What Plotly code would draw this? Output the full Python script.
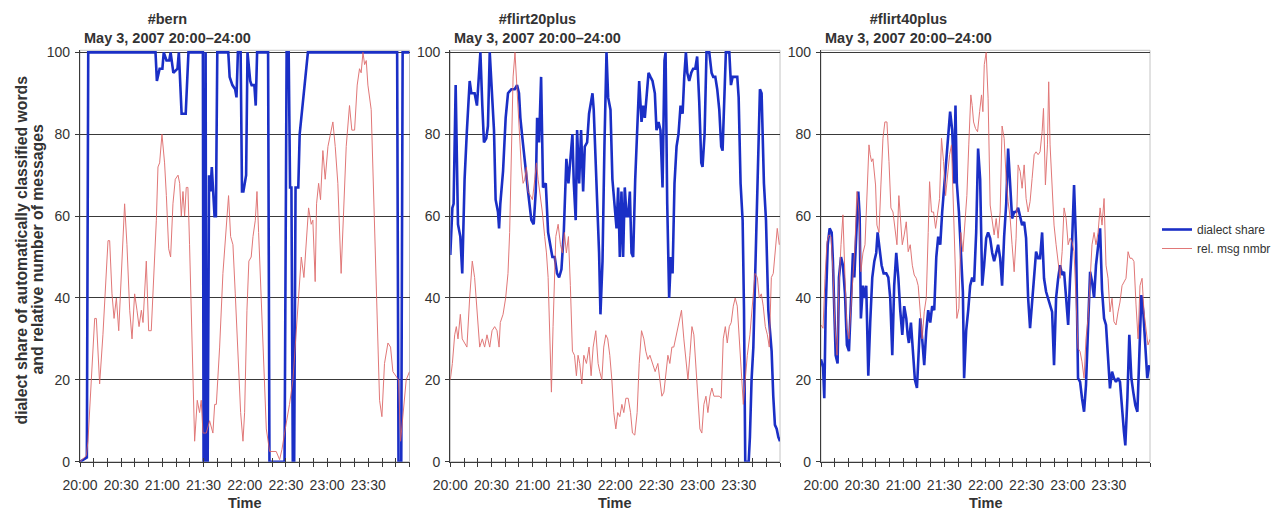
import plotly.graph_objects as go

# ---------------- data (minutes after 20:00, percent) ----------------
tick_labels = ["20:00", "20:30", "21:00", "21:30", "22:00", "22:30", "23:00", "23:30"]
panel_titles = ["#bern", "#flirt20plus", "#flirt40plus"]
subtitle = "May 3, 2007 20:00–24:00"
series_names = ["dialect share", "rel. msg nmbr"]
y_title_lines = ["dialect share of automatically classified words", "and relative number of messages"]

bern_dial_t = [0, 5, 6, 55, 56, 58, 60, 61, 63, 65, 66, 68, 71, 72, 74, 77, 79,
               89.5, 90, 91, 91.5, 92, 93, 94, 95, 96, 97, 98, 99, 100,
               108, 109, 111, 113, 114, 115, 117, 118, 119, 121, 122, 124, 125, 127, 128, 129,
               137, 138, 149, 150, 150.5, 152, 153, 154, 155, 156, 157, 159, 160, 166,
               231, 232, 234, 235, 240]
bern_dial_v = [0, 1, 100, 100, 93, 96, 96, 100, 98, 98, 100, 95, 96, 100, 85, 85, 100,
               100, 0, 0, 100, 0, 0, 70, 66, 72, 66, 60, 60, 100,
               100, 94, 92, 91, 89, 100, 100, 66, 66, 70, 100, 93, 92, 92, 87, 100,
               100, 0, 0, 100, 100, 100, 67, 67, 0, 0, 67, 67, 80, 100,
               100, 0, 0, 100, 100]

bern_msg_t = [0, 4.6, 5.8, 10.7, 11.9, 14.3, 16.7, 19.2, 20.4, 21.6, 22.8, 23.3, 24.8, 26.5, 28.2,
              30.1, 32.5, 34.2, 36.2, 37.9, 39.8, 41.5, 43.0, 44.7, 45.9, 48.3, 50.0, 51.9, 53.9,
              55.6, 56.8, 58.0, 59.7, 61.6, 62.9, 64.6, 66.0, 67.7, 69.4, 71.4, 72.6, 73.8, 75.0,
              76.2, 77.4, 78.6, 79.8, 81.5, 83.5, 85.4, 87.1, 88.3, 89.6, 92.0, 94.4, 96.8, 98.1,
              99.3, 101.7, 104.1, 106.5, 108.2, 109.7, 111.4, 113.1, 115.0, 117.0, 118.7, 119.9,
              121.6, 123.0, 124.7, 126.0, 127.7, 128.9, 130.1, 131.5, 133.2, 135.7, 138.1, 140.5,
              142.9, 145.4, 147.1, 149.5, 152.6, 155.1, 157.5, 159.2, 161.2, 163.1, 164.8, 166.5,
              168.4, 169.6, 171.3, 172.3, 173.8, 175.2, 176.9, 178.6, 180.6, 182.5, 184.2, 185.9,
              187.8, 190.2, 192.2, 193.9, 196.3, 198.0, 200.0, 201.9, 203.6, 204.8, 206.1, 207.3,
              208.5, 209.7, 212.1, 214.5, 216.5, 218.2, 219.9, 221.8, 224.3, 226.2, 227.9, 230.3,
              232.0, 233.5, 235.2, 237.6, 240.0]
bern_msg_v = [0, 1.5, 5, 35, 35, 19, 31, 45, 54, 54, 45, 41, 35, 40, 32,
              45, 63, 53, 37, 30, 41, 37, 33, 37, 34, 49, 32, 32, 45,
              59, 72, 73, 80, 73, 65, 52, 50, 63, 69, 70, 68, 60, 66,
              60, 67, 67, 53, 28, 5, 15, 12, 15, 7, 7, 10, 7, 14,
              14, 28, 46, 58, 65, 55, 53, 41, 26, 12, 5, 12,
              37, 49, 50, 55, 59, 66, 56, 43, 28, 8, 2.5, 2.5,
              2.5, 0.5, 3, 8, 14, 20, 31, 40, 50, 45, 54, 62,
              58, 59, 44, 63, 68, 64, 76, 69, 77, 80, 83, 77,
              68, 46, 63, 77, 87, 81, 81, 92, 96, 95, 100, 97,
              98, 92, 86, 59, 33, 15, 11, 24, 29, 28, 22, 21,
              20, 5, 11, 20, 22]

f20_dial_t = [0, 1.5, 2.4, 3.9, 5.6, 7.3, 8.7, 10.4, 12.1, 14.1, 15.3, 17.7, 19.4, 20.9, 21.9, 23.3,
              24.5, 26.2, 27.4, 28.7, 30.4, 31.8, 33.0, 34.7, 35.5, 36.4, 38.4, 40.3, 42.0, 44.5,
              46.9, 48.6, 50.0, 51.0, 52.5, 54.2, 56.6, 59.0, 60.7, 62.2, 63.2, 64.6, 66.1, 67.5,
              69.5, 71.2, 72.9, 74.3, 76.0, 77.7, 79.2, 80.9, 82.6, 84.5, 86.0, 87.4, 88.9, 89.9,
              91.3, 92.3, 93.8, 95.2, 96.7, 97.9, 99.6, 101.0, 102.0, 103.5, 104.4, 105.4, 106.9,
              108.3, 109.3, 110.8, 112.2, 113.7, 114.9, 116.6, 118.0, 119.5, 121.0, 122.2, 123.4,
              124.6, 125.8, 127.0, 128.3, 129.5, 130.7, 131.9, 133.1, 134.6, 136.0, 137.5, 139.2,
              140.4, 141.6, 142.8, 144.3, 145.7, 147.2, 148.9, 150.1, 151.6, 153.0, 154.5, 155.9,
              156.7, 157.9, 159.3, 160.6, 161.8, 163.2, 164.7, 166.1, 167.6, 169.1, 170.3, 171.5,
              172.5, 173.9, 175.4, 176.8, 178.3, 179.7, 181.2, 182.7, 183.6, 185.1, 186.5, 188.5,
              190.2, 191.4, 192.9, 194.3, 195.8, 197.2, 198.2, 199.7, 200.6, 203.1, 204.3, 205.5,
              207.2, 208.9, 209.9, 211.3, 212.8, 213.8, 214.7, 215.7, 217.2, 218.1, 219.3, 220.6,
              221.8, 223.0, 224.2, 225.4, 226.6, 228.3, 229.8, 231.5, 232.7, 233.9, 235.1, 236.3,
              237.6, 238.8, 240]
f20_dial_v = [50.5, 62, 63, 92, 58, 55, 46, 69, 81, 93, 90, 90, 87, 95, 100, 87,
              78, 79, 82, 100, 90, 81, 64, 61, 57, 63, 71, 84, 90, 91,
              91, 92, 90, 84, 79, 73, 66, 59, 58, 66, 84, 78, 94, 67,
              68, 56, 53, 50, 50, 46, 45, 47, 56, 74, 68, 75, 80, 68,
              59, 81, 68, 81, 66, 77, 78, 85, 87, 90, 86, 78, 63,
              51, 36, 49, 77, 100, 89, 86, 69, 63, 57, 67, 50,
              66, 50, 67, 60, 60, 66, 51, 50, 69, 79, 93, 83,
              87, 84, 90, 95, 94, 93, 90, 81, 83, 81, 67, 98,
              100, 63, 40, 50, 46, 68, 77, 80, 87, 85, 94, 100,
              95, 93, 95, 96, 96, 99, 88, 73, 72, 80, 100, 100,
              95, 94, 94, 91, 86, 77, 76, 92, 100, 100, 92, 94,
              94, 94, 89, 68, 59, 37, 0, 0, 0, 6, 20, 28,
              45, 56, 77, 91, 90, 68, 59, 37, 32, 27, 16, 9,
              8, 6, 5]

f20_msg_t = [0, 1.5, 3.2, 4.4, 5.6, 7.3, 8.7, 10.4, 12.1, 14.1, 16.0, 17.7, 19.4, 21.4, 23.3, 25.0,
             26.7, 28.7, 30.4, 32.3, 34.0, 35.5, 36.4, 38.4, 40.3, 42.0, 43.2, 44.5, 45.7, 47.1,
             48.6, 50.0, 51.7, 53.0, 54.2, 55.4, 56.6, 58.3, 59.8, 61.5, 62.7, 63.9, 65.1, 67.0,
             68.7, 70.0, 71.2, 72.4, 73.6, 74.8, 76.8, 78.5, 80.2, 81.6, 83.1, 84.5, 86.0, 87.4,
             88.9, 90.4, 91.8, 93.0, 94.2, 95.7, 97.2, 99.1, 101.0, 102.5, 104.0, 105.9, 107.6,
             108.8, 110.3, 111.7, 113.2, 114.6, 116.1, 117.6, 119.0, 120.5, 121.9, 123.4, 124.9,
             126.3, 127.8, 129.5, 131.2, 132.6, 134.3, 136.0, 137.5, 139.2, 140.9, 142.3, 143.8,
             145.3, 147.2, 149.1, 151.1, 152.5, 154.0, 155.5, 156.9, 158.4, 159.8, 161.3, 162.7,
             164.7, 166.6, 168.3, 170.0, 171.5, 173.0, 174.4, 175.9, 177.3, 178.8, 180.3, 181.7,
             183.1, 184.6, 186.1, 187.5, 189.0, 190.4, 191.9, 193.8, 195.8, 197.2, 198.7, 200.2,
             201.6, 203.1, 204.5, 206.0, 207.4, 208.9, 210.4, 211.8, 213.3, 214.7, 216.2, 218.1,
             220.1, 221.8, 223.5, 224.9, 226.4, 227.8, 229.3, 230.8, 232.2, 233.7, 235.1, 236.6,
             238.0, 239.5]
f20_msg_v = [20, 24, 31, 33, 30, 36, 30, 29, 28, 40, 49, 45, 37, 28, 30, 28,
             31, 28, 32, 33, 32, 28, 34, 36, 40, 46, 56, 77, 94, 100,
             90, 81, 72, 68, 69, 72, 66, 65, 64, 69, 73, 69, 66, 61,
             55, 51, 45, 33, 17, 33, 55, 58, 53, 51, 56, 51, 55, 43,
             27, 26, 21, 26, 24, 19, 26, 24, 28, 21, 28, 32, 24,
             22, 20, 28, 31, 30, 26, 20, 12, 8, 12, 11, 14,
             12, 15.5, 15.5, 12, 7, 6.5, 12, 24, 32, 30, 27, 25,
             26, 24, 22, 24, 20, 16, 17, 21, 26, 24, 28, 28,
             31, 34, 37, 30, 24, 20, 26, 33, 31, 24, 16, 8,
             7, 14, 16, 12, 16, 18, 16, 16, 16, 15.5, 30, 33,
             29, 33, 34, 38, 40, 38, 30, 21, 14, 20, 26, 31,
             40, 46, 45, 40, 41, 38, 33, 31, 28, 45, 46, 51,
             57, 53]

f40_dial_t = [0, 1.5, 2.4, 3.4, 4.9, 6.3, 7.8, 8.7, 9.7, 10.7, 12.1, 13.1, 14.6, 16.0, 17.5, 18.9,
              20.4, 21.9, 23.3, 24.3, 25.7, 27.2, 28.2, 29.1, 30.6, 32.1, 33.0, 34.5, 35.9, 37.4,
              38.9, 40.3, 41.3, 42.8, 44.2, 45.7, 47.6, 49.1, 50.5, 52.0, 53.4, 54.9, 56.4, 57.8,
              59.3, 60.7, 62.2, 63.2, 64.1, 65.6, 67.0, 68.5, 70.0, 71.2, 72.4, 73.8, 75.3, 76.8,
              78.2, 79.7, 81.1, 82.6, 84.1, 85.5, 87.0, 88.4, 89.9, 91.3, 92.8, 94.2, 95.7, 97.2,
              98.1, 99.1, 100.6, 102.0, 103.5, 104.4, 105.9, 107.4, 108.8, 110.3, 111.7, 113.2,
              114.6, 116.1, 117.6, 119.0, 120.5, 121.9, 123.4, 124.9, 126.3, 127.8, 129.2, 130.7,
              132.1, 133.6, 135.1, 136.5, 138.0, 139.4, 140.9, 142.3, 143.8, 145.3, 146.7, 148.2,
              149.6, 151.1, 152.5, 154.0, 155.5, 156.9, 158.4, 159.8, 161.3, 162.7, 164.2, 165.6,
              167.1, 168.6, 170.0, 171.5, 173.0, 174.4, 175.9, 177.3, 178.8, 180.3, 181.7, 183.1,
              184.6, 186.1, 187.5, 189.0, 190.4, 191.9, 193.3, 194.8, 196.3, 197.7, 199.2, 200.6,
              202.1, 203.6, 205.0, 206.5, 207.9, 209.4, 210.8, 212.3, 213.7, 215.2, 216.7, 218.1,
              219.6, 221.0, 222.0, 223.5, 224.9, 226.4, 227.8, 229.3, 230.8, 232.2, 233.7, 235.1,
              236.6, 238.0, 239.5]
f40_dial_v = [25, 23, 15.5, 37, 53, 57, 56, 49, 37, 26, 24, 45, 50, 48, 41, 28.5,
              27, 40, 51, 45, 56, 66, 60, 35, 43, 40, 43, 21, 34, 45,
              49, 51, 56, 51, 48, 46, 46, 45, 40, 26, 43, 51, 45, 37,
              31, 38, 35, 31, 29, 34, 27, 20, 18, 28, 35, 30, 23.6, 32,
              37, 34, 38, 37, 50, 55, 53, 61, 68, 73, 81, 85.5, 81, 68,
              87, 68, 61, 53, 41.5, 20.4, 32, 37, 43, 45, 44, 56,
              76.5, 69, 43, 48, 54.6, 56, 54.6, 51, 49, 51, 53, 49.7,
              43, 55, 63, 76.5, 67.6, 59.4, 61, 61, 62, 59.4, 57.8, 58.6,
              54.6, 40, 32.6, 39, 45.6, 51.3, 49.7, 49.7, 56, 44.8, 41.5, 40,
              38.3, 36.6, 23.6, 40, 44.8, 48, 45.6, 46.4, 40, 33.4, 44.8, 53,
              67.6, 53, 20.4, 19.5, 15.5, 12.2, 18.7, 35, 46.4, 44, 40, 48,
              53, 57, 42, 35, 33.4, 23.6, 17.9, 22, 20.4, 19.5, 20.4, 19.5,
              12.2, 7.3, 4, 15.5, 31, 20.4, 17, 13.8, 12.2, 28.5, 40.7, 36.6,
              28.5, 20.4, 23.6]

f40_msg_t = [0, 1.5, 2.9, 4.4, 5.8, 7.3, 8.7, 10.2, 11.7, 13.1, 14.6, 16.0, 17.5, 18.9, 20.4, 21.9,
             23.3, 24.8, 26.2, 27.7, 29.1, 30.6, 32.1, 33.5, 35.0, 35.9, 36.9, 37.9, 38.9, 39.8,
             40.8, 42.3, 43.7, 45.2, 46.6, 48.1, 49.6, 51.0, 52.5, 53.9, 55.4, 56.8, 57.8, 59.3,
             60.7, 62.2, 63.6, 65.1, 66.6, 68.0, 69.5, 70.9, 72.4, 73.8, 75.3, 76.8, 78.2, 79.2,
             80.6, 82.1, 83.6, 85.0, 86.5, 87.9, 89.4, 90.9, 92.3, 93.8, 95.2, 96.7, 98.1, 99.1,
             100.6, 102.0, 103.5, 104.9, 106.4, 107.8, 109.3, 110.3, 111.3, 112.7, 114.2, 115.7,
             117.1, 118.1, 119.1, 120.5, 121.9, 123.4, 124.9, 126.3, 127.8, 129.2, 130.7, 132.1,
             133.6, 135.1, 136.5, 138.0, 139.4, 140.9, 142.3, 143.8, 145.3, 146.7, 148.2, 149.6,
             151.1, 152.5, 154.0, 155.5, 156.9, 158.4, 159.8, 161.3, 162.3, 163.7, 165.2, 166.1,
             167.1, 168.6, 170.0, 171.5, 173.0, 174.4, 175.9, 177.3, 178.8, 180.3, 181.7, 183.1,
             184.6, 186.1, 187.5, 189.0, 190.4, 191.9, 193.3, 194.8, 196.3, 197.7, 199.2, 200.6,
             202.1, 203.6, 205.0, 206.5, 207.9, 209.4, 210.8, 212.3, 213.7, 215.2, 216.7, 218.1,
             219.6, 221.0, 222.5, 224.0, 225.4, 226.9, 228.3, 229.8, 231.3, 232.7, 234.2, 235.6,
             237.1, 238.5, 240]
f40_msg_v = [33.4, 32.6, 44.8, 53.7, 55.4, 55, 47, 32.6, 26, 43, 53, 60.3, 45, 32.6, 30, 38.3,
             46.4, 53, 66, 61, 46.4, 51, 53, 63.5, 77.4, 75, 73.3, 74, 71, 67.6,
             57.8, 56, 67.6, 79, 83, 83, 73.3, 62, 61, 57, 53, 65, 61, 53,
             55.4, 58.6, 51.3, 53, 48, 45.6, 44.8, 43, 36.6, 30, 36.6, 40, 56, 68.4,
             61, 61, 57, 61, 64.3, 79, 73.3, 65, 69.2, 75, 77.4, 62.7, 46.4, 35,
             37.5, 56, 51.3, 59.4, 65, 77.4, 89.6, 87, 83, 81.4, 80.6, 85.5,
             89.6, 85.5, 97, 100, 88.8, 62.7, 59.4, 55.4, 59.4, 54.6, 61, 82,
             79, 69, 63.5, 59.4, 53, 46.4, 54.6, 72.5, 70.9, 66.8, 72.5, 64.3,
             61, 63.5, 69.2, 75, 75.7, 75, 75.7, 80.6, 86.3, 67.6, 77.4, 92.8,
             77.4, 65, 57.8, 53, 48, 44.8, 51.3, 62, 59.4, 53, 54.6, 53.7,
             51.3, 36.6, 27.7, 26.9, 24.4, 20.4, 30, 35, 43, 53, 56, 53,
             56, 62, 57.8, 64.3, 48, 44.8, 36.6, 39.9, 34.2, 33.4, 36.6, 39,
             43, 44, 44.8, 51.3, 49.7, 49.7, 48.9, 38.3, 30, 43, 44.8, 36.6,
             31.8, 28.5, 29.9]

panels = [
    (bern_dial_t, bern_dial_v, bern_msg_t, bern_msg_v),
    (f20_dial_t, f20_dial_v, f20_msg_t, f20_msg_v),
    (f40_dial_t, f40_dial_v, f40_msg_t, f40_msg_v),
]

# ---------------- styling ----------------
W, H = 1277, 511
FONT = "Liberation Sans, Arial, Helvetica, sans-serif"
BLUE = "#1b2fc6"
RED = "#dc6060"
GRID = "#3a3a3a"
TXT = "#333333"

x_px = [(80, 409.5), (450.3, 780), (821, 1150)]
y_top_px, y_bot_px = 50.3, 461.7
y_dom = [1 - y_bot_px / H, 1 - y_top_px / H]


def hhmm_to_min(s):
    h, m = s.split(":")
    return (int(h) - 20) * 60 + int(m)


tick_pos = [hhmm_to_min(s) for s in tick_labels]

fig = go.Figure()
layout = dict(
    width=W, height=H, margin=dict(l=0, r=0, t=0, b=0, autoexpand=False),
    paper_bgcolor="white", plot_bgcolor="white",
    font=dict(family=FONT, color=TXT, size=14),
    showlegend=True,
    legend=dict(x=1157 / W, y=1 - 215 / H, xanchor="left", yanchor="top",
                font=dict(size=12, color=TXT, family=FONT),
                bgcolor="rgba(0,0,0,0)", itemwidth=30, tracegroupgap=0),
)
annotations = []
shapes = []

for i, (dt, dv, mt, mv) in enumerate(panels):
    n = "" if i == 0 else str(i + 1)
    xa, ya = "x" + n, "y" + n
    fig.add_trace(go.Scatter(x=dt, y=dv, mode="lines", name=series_names[0],
                             line=dict(color=BLUE, width=2.6), xaxis=xa, yaxis=ya,
                             showlegend=(i == 0), legendrank=1))
    fig.add_trace(go.Scatter(x=mt, y=mv, mode="lines", name=series_names[1],
                             line=dict(color=RED, width=1.0), opacity=0.85,
                             xaxis=xa, yaxis=ya, showlegend=(i == 0), legendrank=2))
    x0, x1 = x_px[i]
    layout["xaxis" + n] = dict(
        domain=[x0 / W, x1 / W], range=[0, 240], anchor=ya, automargin=False,
        tickmode="array", tickvals=tick_pos, ticktext=tick_labels,
        ticks="outside", ticklen=4, tickcolor=GRID, tickwidth=1,
        minor=dict(tickmode="linear", tick0=0, dtick=10, ticks="outside",
                   ticklen=4, tickcolor=GRID, showgrid=False),
        showline=True, linecolor=GRID, linewidth=1.3, showgrid=False, zeroline=False,
        tickfont=dict(size=14, color=TXT), ticklabelstandoff=6,
    )
    # companion axis drawing the inner half of the crossing ticks
    layout["xaxis" + str(i + 4)] = dict(
        domain=[x0 / W, x1 / W], range=[0, 240], anchor=ya, overlaying=xa,
        automargin=False, tickmode="linear", tick0=0, dtick=10,
        ticks="inside", ticklen=4, tickcolor=GRID, showticklabels=False,
        showline=False, showgrid=False, zeroline=False,
    )
    fig.add_trace(go.Scatter(x=[], y=[], mode="lines", xaxis="x" + str(i + 4), yaxis=ya,
                             showlegend=False, hoverinfo="skip"))
    layout["yaxis" + n] = dict(
        domain=y_dom, range=[0, 100.5], anchor=xa, automargin=False,
        tickmode="linear", tick0=0, dtick=20,
        ticks="outside", ticklen=4, tickcolor=GRID,
        showline=True, linecolor=GRID, linewidth=1.3,
        showgrid=True, gridcolor=GRID, gridwidth=1, zeroline=False,
        tickfont=dict(size=14, color=TXT), ticklabelstandoff=2,
    )
    # light frame (top & right)
    shapes.append(dict(type="rect", xref=xa + " domain", yref=ya + " domain",
                       x0=0, x1=1, y0=0, y1=1, line=dict(color="#c4c4c4", width=1),
                       layer="below"))
    annotations.append(dict(
        text="<b>" + panel_titles[i] + "</b><br><b>" + subtitle + "</b>",
        xref="paper", yref="paper", x=(x0 + 2) / W, y=1 - 9 / H,
        xanchor="left", yanchor="top", align="center", showarrow=False,
        font=dict(size=14.5, color=TXT, family=FONT)))
    annotations.append(dict(
        text="<b>Time</b>", xref="paper", yref="paper", x=(x0 + x1) / 2 / W, y=1 - 503 / H,
        xanchor="center", yanchor="middle", showarrow=False,
        font=dict(size=14.5, color=TXT, family=FONT)))

for k, (line_txt, xpx) in enumerate(zip(y_title_lines, [20.5, 36.5])):
    annotations.append(dict(
        text="<b>" + line_txt + "</b>",
        xref="paper", yref="paper", x=xpx / W, y=1 - 250 / H, textangle=-90,
        xanchor="center", yanchor="middle", showarrow=False,
        font=dict(size=15.8, color=TXT, family=FONT)))

layout["annotations"] = annotations
layout["shapes"] = shapes
fig.update_layout(**layout)
fig.write_html("out.html")
